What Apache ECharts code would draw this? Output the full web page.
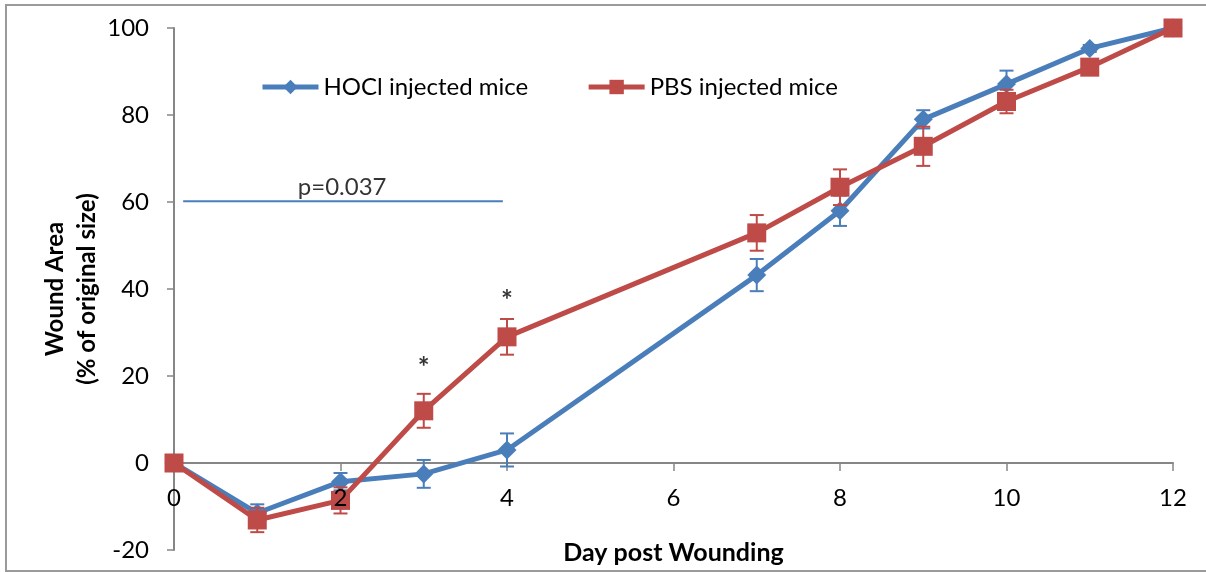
<!DOCTYPE html>
<html>
<head>
<meta charset="utf-8">
<script src="https://cdn.jsdelivr.net/npm/echarts@6/dist/echarts.min.js"></script>
<style>
html,body{margin:0;padding:0;background:#fff;}
#chart{width:1206px;height:572px;}
</style>
</head>
<body>
<div id="chart"></div>
<script>
// ---- data ----
const days = [0, 1, 2, 3, 4, 7, 8, 9, 10, 11, 12];
const hoclValues = [0, -11.5, -4.3, -2.5, 3, 43.2, 58, 79, 87.1, 95.3, 100];
const hoclErrors = [0, 2, 2, 3.2, 3.8, 3.7, 3.5, 2.1, 3.1, 0.8, 0];
const pbsValues = [0, -13.1, -8.6, 12, 29, 52.9, 63.4, 72.8, 83.1, 91, 100];
const pbsErrors = [0, 2.8, 3, 3.9, 4.1, 4.1, 4.1, 4.5, 2.7, 0.8, 0];
const xTicks = [0, 2, 4, 6, 8, 10, 12];
const yTicks = [-20, 0, 20, 40, 60, 80, 100];
const significanceMarks = [[3, 23.2], [4, 38.6]];
const pLine = [[0.11, 60.2], [3.95, 60.2]];
const pLabel = { x: 2.02, y: 63.5, text: 'p=0.037' };
const seriesNames = ['HOCl injected mice', 'PBS injected mice'];

const BLUE = '#4A7EBB';
const RED = '#BE4B48';
const FONT = 'Lato, "Liberation Sans", sans-serif';

function pairs(xs, ys) { return xs.map((x, i) => [x, ys[i]]); }
function errData(xs, ys, es) { return xs.map((x, i) => [x, ys[i] - es[i], ys[i] + es[i]]); }

function errorSeries(name, data, color, z) {
  return {
    type: 'custom',
    name: name + ' err',
    data: data,
    z: z,
    silent: true,
    encode: { x: 0, y: [1, 2] },
    renderItem: function (params, api) {
      const x = api.value(0);
      if (api.value(2) - api.value(1) < 0.5) return null;
      const lo = api.coord([x, api.value(1)]);
      const hi = api.coord([x, api.value(2)]);
      const hw = 7;
      const st = { stroke: color, lineWidth: 2 };
      return {
        type: 'group',
        children: [
          { type: 'line', shape: { x1: lo[0], y1: lo[1], x2: hi[0], y2: hi[1] }, style: st },
          { type: 'line', shape: { x1: lo[0] - hw, y1: lo[1], x2: lo[0] + hw, y2: lo[1] }, style: st },
          { type: 'line', shape: { x1: hi[0] - hw, y1: hi[1], x2: hi[0] + hw, y2: hi[1] }, style: st }
        ]
      };
    }
  };
}

const chart = echarts.init(document.getElementById('chart'), null, { renderer: 'canvas' });
chart.setOption({
  animation: false,
  backgroundColor: '#fff',
  textStyle: { fontFamily: FONT, color: '#000' },
  graphic: [{
    type: 'rect',
    shape: { x: 6, y: 5, width: 1210, height: 566 },
    style: { fill: 'none', stroke: '#9A9A9A', lineWidth: 2 },
    z: -10
  }],
  legend: {
    data: seriesNames,
    left: 260,
    top: 75,
    padding: 0,
    itemWidth: 56,
    itemHeight: 18,
    itemGap: 58,
    lineStyle: { width: 5 },
    textStyle: { fontFamily: FONT, fontSize: 24, color: '#000' }
  },
  grid: { left: 174, right: 33, top: 28, bottom: 22, containLabel: false, outerBoundsMode: 'none' },
  xAxis: [
    {
      type: 'value',
      min: 0, max: 12, interval: 2,
      z: 0,
      axisLine: { onZero: true, lineStyle: { color: '#868686', width: 2 } },
      axisTick: { show: true, length: 8, inside: false, lineStyle: { color: '#868686', width: 1.5 } },
      axisLabel: { show: false },
      splitLine: { show: false }
    },
    {
      type: 'value',
      position: 'bottom',
      min: 0, max: 12, interval: 2,
      z: 20,
      name: 'Day post Wounding',
      nameLocation: 'middle',
      nameGap: -10,
      nameMoveOverlap: false,
      nameTextStyle: { fontFamily: FONT, fontSize: 25, fontWeight: 'bold', color: '#000' },
      axisLine: { show: false, onZero: false },
      axisTick: { show: false },
      axisLabel: {
        margin: -64, fontFamily: FONT, fontSize: 24, color: '#000',
        customValues: xTicks
      },
      splitLine: { show: false }
    }
  ],
  yAxis: {
    type: 'value',
    min: -20, max: 100, interval: 20,
    name: 'Wound Area\n(% of original size)',
    nameLocation: 'middle',
    nameRotate: 90,
    nameGap: 71,
    nameMoveOverlap: false,
    nameTextStyle: { fontFamily: FONT, fontSize: 24, fontWeight: 'bold', color: '#000', lineHeight: 32, align: 'center' },
    axisLine: { show: true, onZero: false, lineStyle: { color: '#868686', width: 2 } },
    axisTick: { show: true, length: 7, lineStyle: { color: '#868686', width: 1.5 } },
    axisLabel: { margin: 25, fontFamily: FONT, fontSize: 24, color: '#000', customValues: yTicks },
    splitLine: { show: false }
  },
  series: [
    {
      name: seriesNames[0],
      type: 'line',
      data: pairs(days, hoclValues),
      symbol: 'diamond',
      symbolSize: 19,
      showAllSymbol: true,
      z: 4,
      lineStyle: { color: BLUE, width: 5 },
      itemStyle: { color: BLUE }
    },
    errorSeries(seriesNames[0], errData(days, hoclValues, hoclErrors), BLUE, 3),
    {
      name: seriesNames[1],
      type: 'line',
      data: pairs(days, pbsValues),
      symbol: 'rect',
      symbolSize: 19,
      showAllSymbol: true,
      z: 6,
      lineStyle: { color: RED, width: 5 },
      itemStyle: { color: RED }
    },
    errorSeries(seriesNames[1], errData(days, pbsValues, pbsErrors), RED, 5),
    {
      name: 'p-line',
      type: 'line',
      data: pLine,
      symbol: 'none',
      silent: true,
      z: 2,
      lineStyle: { color: BLUE, width: 2 }
    },
    {
      name: 'p-label',
      type: 'scatter',
      data: [[pLabel.x, pLabel.y]],
      symbolSize: 0,
      silent: true,
      label: { show: true, position: 'inside', formatter: pLabel.text, fontFamily: FONT, fontSize: 24, color: '#000' }
    },
    {
      name: 'stars',
      type: 'scatter',
      data: significanceMarks,
      symbolSize: 0,
      silent: true,
      label: { show: true, position: 'inside', formatter: '*', fontFamily: FONT, fontSize: 28, fontWeight: 'bold', color: '#000', offset: [0, 6] }
    }
  ]
});
</script>
</body>
</html>
